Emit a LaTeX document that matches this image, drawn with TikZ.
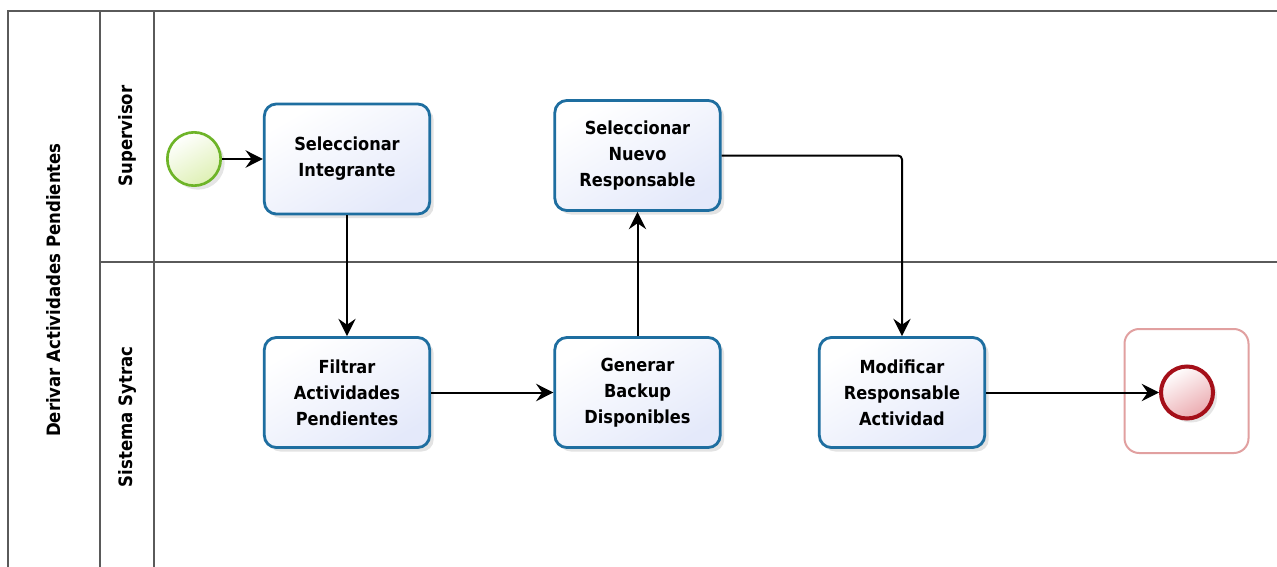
\documentclass[tikz,border=0pt]{standalone}
\usepackage{fontspec}
\setmainfont{DejaVu Sans Condensed}
\usetikzlibrary{arrows.meta,shadows,calc,positioning}

\definecolor{laneline}{RGB}{90,90,90}
\definecolor{taskborder}{RGB}{30,110,160}
\definecolor{taskfill}{RGB}{228,233,250}
\definecolor{startborder}{RGB}{110,180,40}
\definecolor{startfill}{RGB}{222,240,180}
\definecolor{endborder}{RGB}{165,15,25}
\definecolor{endfill}{RGB}{235,170,175}
\definecolor{endframe}{RGB}{225,160,160}

\tikzset{
  lane/.style={draw=laneline, line width=1.1pt},
  task/.style={draw=taskborder, line width=2.1pt, rounded corners=9pt,
    minimum width=124pt, minimum height=82.5pt, align=center,
    font=\bfseries\fontsize{13.5}{19.5}\selectfont,
    top color=white, bottom color=taskfill, shading angle=30,
    drop shadow={opacity=0.22, shadow xshift=3pt, shadow yshift=-3pt}},
  startev/.style={circle, draw=startborder, line width=2pt, minimum size=40pt,
    inner sep=0pt, top color=white, bottom color=startfill, shading angle=30,
    drop shadow={opacity=0.2, shadow xshift=3pt, shadow yshift=-3pt}},
  endev/.style={circle, draw=endborder, line width=3pt, minimum size=39pt,
    inner sep=0pt, top color=white, bottom color=endfill, shading angle=30,
    drop shadow={opacity=0.2, shadow xshift=3pt, shadow yshift=-3pt}},
  endbox/.style={draw=endframe, line width=1.5pt, rounded corners=11pt,
    minimum width=93pt, minimum height=93pt},
  flow/.style={draw=black, line width=1.5pt,
    -{Stealth[length=13pt,width=13pt,inset=4.5pt]}},
  lanetitle/.style={rotate=90, font=\bfseries\fontsize{13.8}{16}\selectfont}
}

\begin{document}
\begin{tikzpicture}[x=0.75pt,y=-0.75pt]
  \useasboundingbox (0,0) rectangle (1277,567);
  \fill[white] (0,0) rectangle (1277,567);

  % pool and lanes
  \draw[lane] (1280,11) -- (8,11) -- (8,570);
  \draw[lane] (100,11) -- (100,570);
  \draw[lane] (154,11) -- (154,570);
  \draw[lane] (100,262) -- (1280,262);

  \node[lanetitle] (pool) at (54,290) {Derivar Actividades Pendientes};
  \node[lanetitle] (sup) at (127,136) {Supervisor};
  \node[lanetitle] (sys) at (127,417) {Sistema Sytrac};

  % events and tasks
  \node[startev] (start) at (194,159) {};
  \node[task] (si) at (347,159) {Seleccionar\\Integrante};
  \node[task] (snr) at (637.5,155.5) {Seleccionar\\Nuevo\\Responsable};
  \node[task] (fa) at (347,392.5) {Filtrar\\Actividades\\Pendientes};
  \node[task] (gb) at (637.5,392.5) {Generar\\Backup\\Disponibles};
  \node[task] (mr) at (902,392.5) {Modificar\\Responsable\\Actividad};
  \node[endbox] (endframe) at (1186.5,391) {};
  \node[endev] (end) at (1187,392.5) {};

  % sequence flows
  \draw[flow] (start) -- (si);
  \draw[flow] (si.south) -- (fa.north);
  \draw[flow] (fa) -- (gb);
  \draw[flow] (gb.north) -- (snr.south);
  \draw[flow, rounded corners=3pt] (snr.east) -- (snr.east -| mr.north) -- (mr.north);
  \draw[flow] (mr) -- (end);
\end{tikzpicture}
\end{document}
